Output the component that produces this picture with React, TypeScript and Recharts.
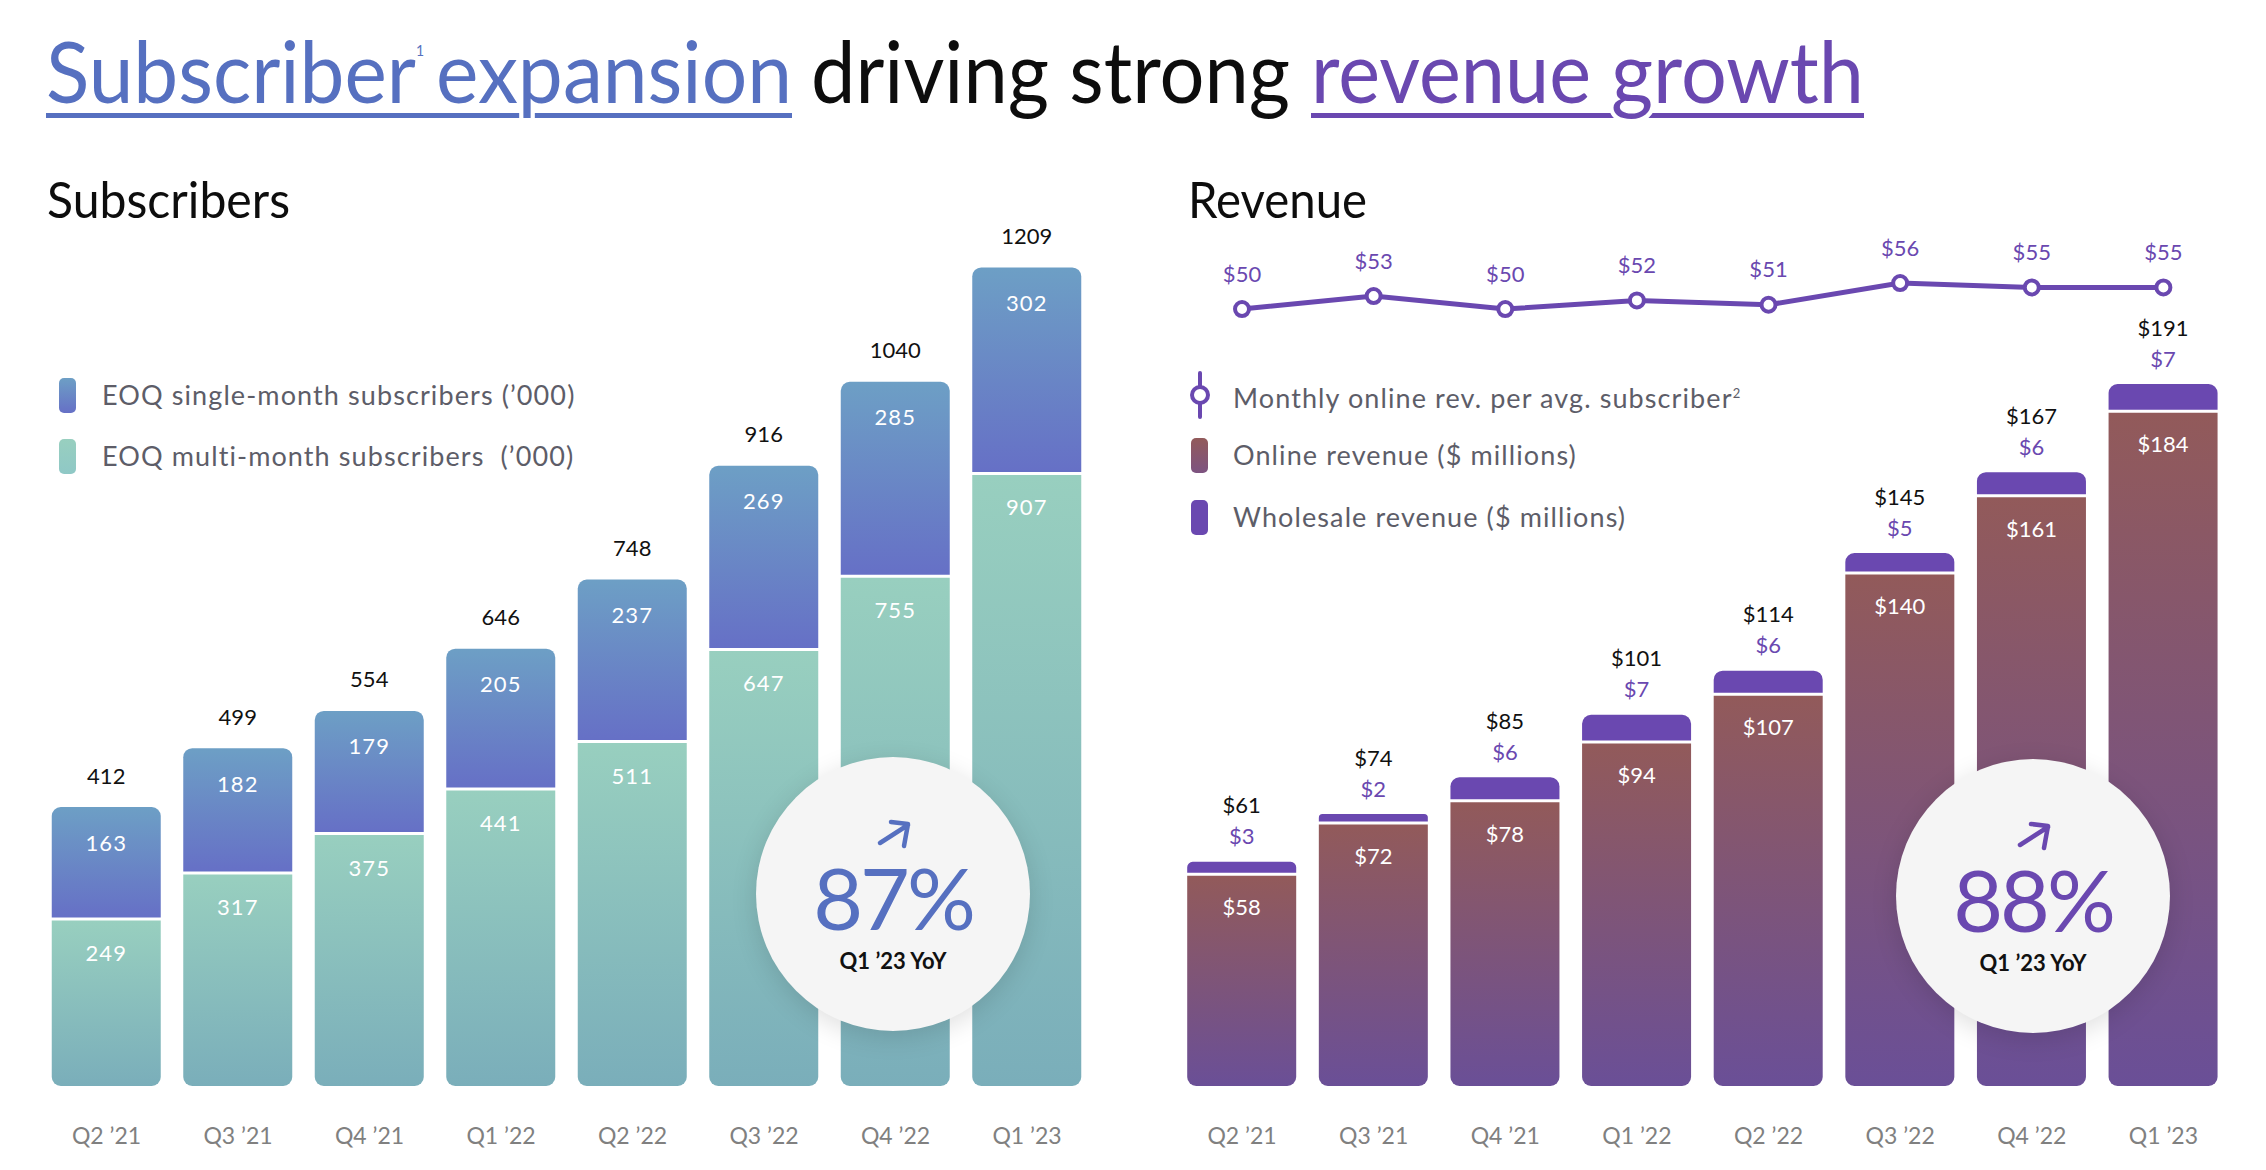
import React from 'react';
import { ComposedChart, Bar, Line, XAxis, YAxis, LabelList, Rectangle } from 'recharts';

const FONT = "Lato, 'Open Sans', 'DejaVu Sans', sans-serif";
const BLUE = '#5670c0';
const PURPLE = '#6a48b0';

// chart values
const quarters = ['Q2 ’21', 'Q3 ’21', 'Q4 ’21', 'Q1 ’22', 'Q2 ’22', 'Q3 ’22', 'Q4 ’22', 'Q1 ’23'];
const singleMonth = [163, 182, 179, 205, 237, 269, 285, 302];
const multiMonth = [249, 317, 375, 441, 511, 647, 755, 907];
const subscriberTotals = [412, 499, 554, 646, 748, 916, 1040, 1209];
const onlineRevenue = [58, 72, 78, 94, 107, 140, 161, 184];
const wholesaleRevenue = [3, 2, 6, 7, 6, 5, 6, 7];
const revenueTotals = [61, 74, 85, 101, 114, 145, 167, 191];
const revPerSubscriber = [50, 53, 50, 52, 51, 56, 55, 55];

const subsData = quarters.map((q, i) => ({
  q, single: singleMonth[i], multi: multiMonth[i], total: subscriberTotals[i],
}));
const revData = quarters.map((q, i) => ({
  q, online: onlineRevenue[i], wholesale: wholesaleRevenue[i], total: revenueTotals[i], arpu: revPerSubscriber[i],
}));

const labelStyle = { fontFamily: FONT, fontSize: 22 };

const QuarterTick = (p: any) => (
  <text x={p.x} y={p.y + 49} textAnchor="middle" dominantBaseline="central"
    fill="#808080" fontSize={23} fontFamily={FONT}>{p.payload.value}</text>
);

const MultiShape = (p: any) => {
  const cx = p.x + p.width / 2;
  return (
    <g>
      <Rectangle x={p.x} y={p.y + 3} width={p.width} height={Math.max(p.height - 3, 0)}
        radius={[0, 0, 9, 9]} fill="url(#gMulti)" />
      <text x={cx} y={p.y + 35} textAnchor="middle" dominantBaseline="central" fill="#fff"
        letterSpacing={1} {...labelStyle}>{p.payload.multi}</text>
    </g>
  );
};

const SingleShape = (p: any) => {
  const cx = p.x + p.width / 2;
  return (
    <g>
      <Rectangle x={p.x} y={p.y} width={p.width} height={p.height} radius={[9, 9, 0, 0]} fill="url(#gSingle)" />
      <text x={cx} y={p.y - 32} textAnchor="middle" dominantBaseline="central" fill="#111"
        {...labelStyle}>{p.payload.total}</text>
      <text x={cx} y={p.y + 35} textAnchor="middle" dominantBaseline="central" fill="#fff"
        letterSpacing={1} {...labelStyle}>{p.payload.single}</text>
    </g>
  );
};

const OnlineShape = (p: any) => {
  const cx = p.x + p.width / 2;
  return (
    <g>
      <Rectangle x={p.x} y={p.y + 3} width={p.width} height={Math.max(p.height - 3, 0)}
        radius={[0, 0, 9, 9]} fill="url(#gOnline)" />
      <text x={cx} y={p.y + 34} textAnchor="middle" dominantBaseline="central" fill="#fff"
        {...labelStyle}>${p.payload.online}</text>
    </g>
  );
};

const WholesaleShape = (p: any) => {
  const cx = p.x + p.width / 2;
  return (
    <g>
      <Rectangle x={p.x} y={p.y} width={p.width} height={p.height} radius={[9, 9, 0, 0]} fill={PURPLE} />
      <text x={cx} y={p.y - 57} textAnchor="middle" dominantBaseline="central" fill="#111"
        {...labelStyle}>${p.payload.total}</text>
      <text x={cx} y={p.y - 26} textAnchor="middle" dominantBaseline="central" fill={PURPLE}
        {...labelStyle}>${p.payload.wholesale}</text>
    </g>
  );
};

const ArpuLabel = (p: any) => {
  const x = p.viewBox?.x ?? p.x;
  const y = p.viewBox?.y ?? p.y;
  return (
    <text x={x} y={y - 36} textAnchor="middle" dominantBaseline="central" fill={PURPLE}
      {...labelStyle}>${p.value}</text>
  );
};

const Badge = ({ cx, cy, value, color }: { cx: number; cy: number; value: string; color: string }) => (
  <div style={{
    position: 'absolute', left: cx - 137, top: cy - 137, width: 274, height: 274, borderRadius: '50%',
    background: '#f5f5f5', boxShadow: '0 6px 26px rgba(0,0,0,0.13)', zIndex: 2,
  }}>
    <svg width={274} height={274} style={{ position: 'absolute', left: 0, top: 0 }}>
      <path d="M124 86 L152 68 M135 65 L152 67 L148 89" stroke={color} strokeWidth={4.5}
        fill="none" strokeLinecap="round" strokeLinejoin="round" />
      <text x={137} y={139} textAnchor="middle" dominantBaseline="central" fill={color}
        fontFamily={FONT} fontSize={86} letterSpacing={-3}>{value}</text>
      <text x={137} y={203} textAnchor="middle" dominantBaseline="central" fill="#111"
        fontFamily={FONT} fontSize={22} fontWeight={700}>Q1 ’23 YoY</text>
    </svg>
  </div>
);

const legendText = {
  position: 'absolute' as const, fontFamily: FONT, fontSize: 27, letterSpacing: 1.1,
  color: '#5d5d68', lineHeight: '30px', whiteSpace: 'nowrap' as const,
};

export default function App() {
  return (
    <div style={{ position: 'absolute', left: 0, top: 0, width: 2266, height: 1170, background: '#fff', overflow: 'hidden' }}>
      <svg width={0} height={0} style={{ position: 'absolute' }}>
        <defs>
          <linearGradient id="gSingle" x1="0" y1="0" x2="0" y2="1">
            <stop offset="0" stopColor="#6d9fc5" />
            <stop offset="1" stopColor="#6670c6" />
          </linearGradient>
          <linearGradient id="gMulti" x1="0" y1="0" x2="0" y2="1">
            <stop offset="0" stopColor="#98cfbf" />
            <stop offset="1" stopColor="#7aaeba" />
          </linearGradient>
          <linearGradient id="gOnline" x1="0" y1="0" x2="0" y2="1">
            <stop offset="0" stopColor="#925a5a" />
            <stop offset="1" stopColor="#6a4f97" />
          </linearGradient>
        </defs>
      </svg>

      {/* title and panel headings */}
      <svg width={2266} height={240} style={{ position: 'absolute', left: 0, top: 0 }} fontFamily={FONT}>
        <rect x={46} y={113} width={746} height={5} fill={BLUE} />
        <rect x={1311} y={113} width={553} height={5} fill={PURPLE} />
        <g fontSize={86} stroke="#fff" strokeWidth={9} style={{ paintOrder: 'stroke' }}>
          <text x={46} y={103} textLength={378} lengthAdjust="spacingAndGlyphs" fill={BLUE}>
            Subscriber<tspan fontSize={15} dy={-47} strokeWidth={0}>1</tspan>
          </text>
          <text x={436} y={103} textLength={356} lengthAdjust="spacingAndGlyphs" fill={BLUE}>expansion</text>
          <text x={811} y={103} textLength={479} lengthAdjust="spacingAndGlyphs" fill="#0d0d0d" strokeWidth={0}>driving strong</text>
          <text x={1311} y={103} textLength={280} lengthAdjust="spacingAndGlyphs" fill={PURPLE}>revenue</text>
          <text x={1611} y={103} textLength={253} lengthAdjust="spacingAndGlyphs" fill={PURPLE}>growth</text>
        </g>
        <text x={47} y={218} fontSize={50} textLength={243} lengthAdjust="spacingAndGlyphs" fill="#0d0d0d">Subscribers</text>
        <text x={1188} y={218} fontSize={50} textLength={179} lengthAdjust="spacingAndGlyphs" fill="#0d0d0d">Revenue</text>
      </svg>

      {/* subscribers panel */}
      <div style={{ position: 'absolute', left: 0, top: 0 }}>
        <ComposedChart width={1133} height={1170} data={subsData}
          margin={{ top: 151, right: 40.25, bottom: 0, left: 40.75 }}>
          <XAxis dataKey="q" axisLine={false} tickLine={false} tickSize={0} tickMargin={0}
            height={84} interval={0} tick={<QuarterTick />} />
          <YAxis hide domain={[0, 1381]} allowDataOverflow />
          <Bar dataKey="multi" stackId="s" barSize={109} shape={<MultiShape />} isAnimationActive={false} />
          <Bar dataKey="single" stackId="s" barSize={109} shape={<SingleShape />} isAnimationActive={false} />
        </ComposedChart>
      </div>

      {/* revenue panel */}
      <div style={{ position: 'absolute', left: 1133, top: 0 }}>
        <ComposedChart width={1133} height={1170} data={revData}
          margin={{ top: 151, right: 36.8, bottom: 0, left: 43.2 }}>
          <XAxis dataKey="q" axisLine={false} tickLine={false} tickSize={0} tickMargin={0}
            height={84} interval={0} tick={<QuarterTick />} />
          <YAxis yAxisId="rev" hide domain={[0, 254.4]} allowDataOverflow />
          <YAxis yAxisId="arpu" hide domain={[-129.4, 86.5]} allowDataOverflow />
          <Bar yAxisId="rev" dataKey="online" stackId="r" barSize={109} shape={<OnlineShape />} isAnimationActive={false} />
          <Bar yAxisId="rev" dataKey="wholesale" stackId="r" barSize={109} shape={<WholesaleShape />} isAnimationActive={false} />
          <Line yAxisId="arpu" type="linear" dataKey="arpu" stroke={PURPLE} strokeWidth={5}
            dot={{ r: 7, fill: '#fff', stroke: PURPLE, strokeWidth: 4 }} isAnimationActive={false}>
            <LabelList dataKey="arpu" content={<ArpuLabel />} />
          </Line>
        </ComposedChart>
      </div>

      {/* legends */}
      <div style={{ position: 'absolute', left: 59, top: 378, width: 17, height: 35, borderRadius: 5, background: 'linear-gradient(#6d9fc5, #6670c6)' }} />
      <div style={{ ...legendText, left: 102, top: 380 }}>EOQ single-month subscribers (’000)</div>
      <div style={{ position: 'absolute', left: 59, top: 439, width: 17, height: 35, borderRadius: 5, background: 'linear-gradient(#98cfbf, #8fc8c6)' }} />
      <div style={{ ...legendText, left: 102, top: 441 }}>EOQ multi-month subscribers&nbsp; (’000)</div>

      <svg width={30} height={50} style={{ position: 'absolute', left: 1185, top: 370 }}>
        <line x1={15} y1={3} x2={15} y2={47} stroke={PURPLE} strokeWidth={4} strokeLinecap="round" />
        <circle cx={15} cy={25} r={8} fill="#fff" stroke={PURPLE} strokeWidth={4} />
      </svg>
      <div style={{ ...legendText, left: 1233, top: 378 }}>Monthly online rev. per avg. subscriber<sup style={{ fontSize: 13 }}>2</sup></div>
      <div style={{ position: 'absolute', left: 1191, top: 438, width: 17, height: 35, borderRadius: 5, background: 'linear-gradient(#925a5a, #7d5381)' }} />
      <div style={{ ...legendText, left: 1233, top: 440 }}>Online revenue ($ millions)</div>
      <div style={{ position: 'absolute', left: 1191, top: 500, width: 17, height: 35, borderRadius: 5, background: PURPLE }} />
      <div style={{ ...legendText, left: 1233, top: 502 }}>Wholesale revenue ($ millions)</div>

      <Badge cx={893} cy={894} value="87%" color={BLUE} />
      <Badge cx={2033} cy={896} value="88%" color={PURPLE} />
    </div>
  );
}
